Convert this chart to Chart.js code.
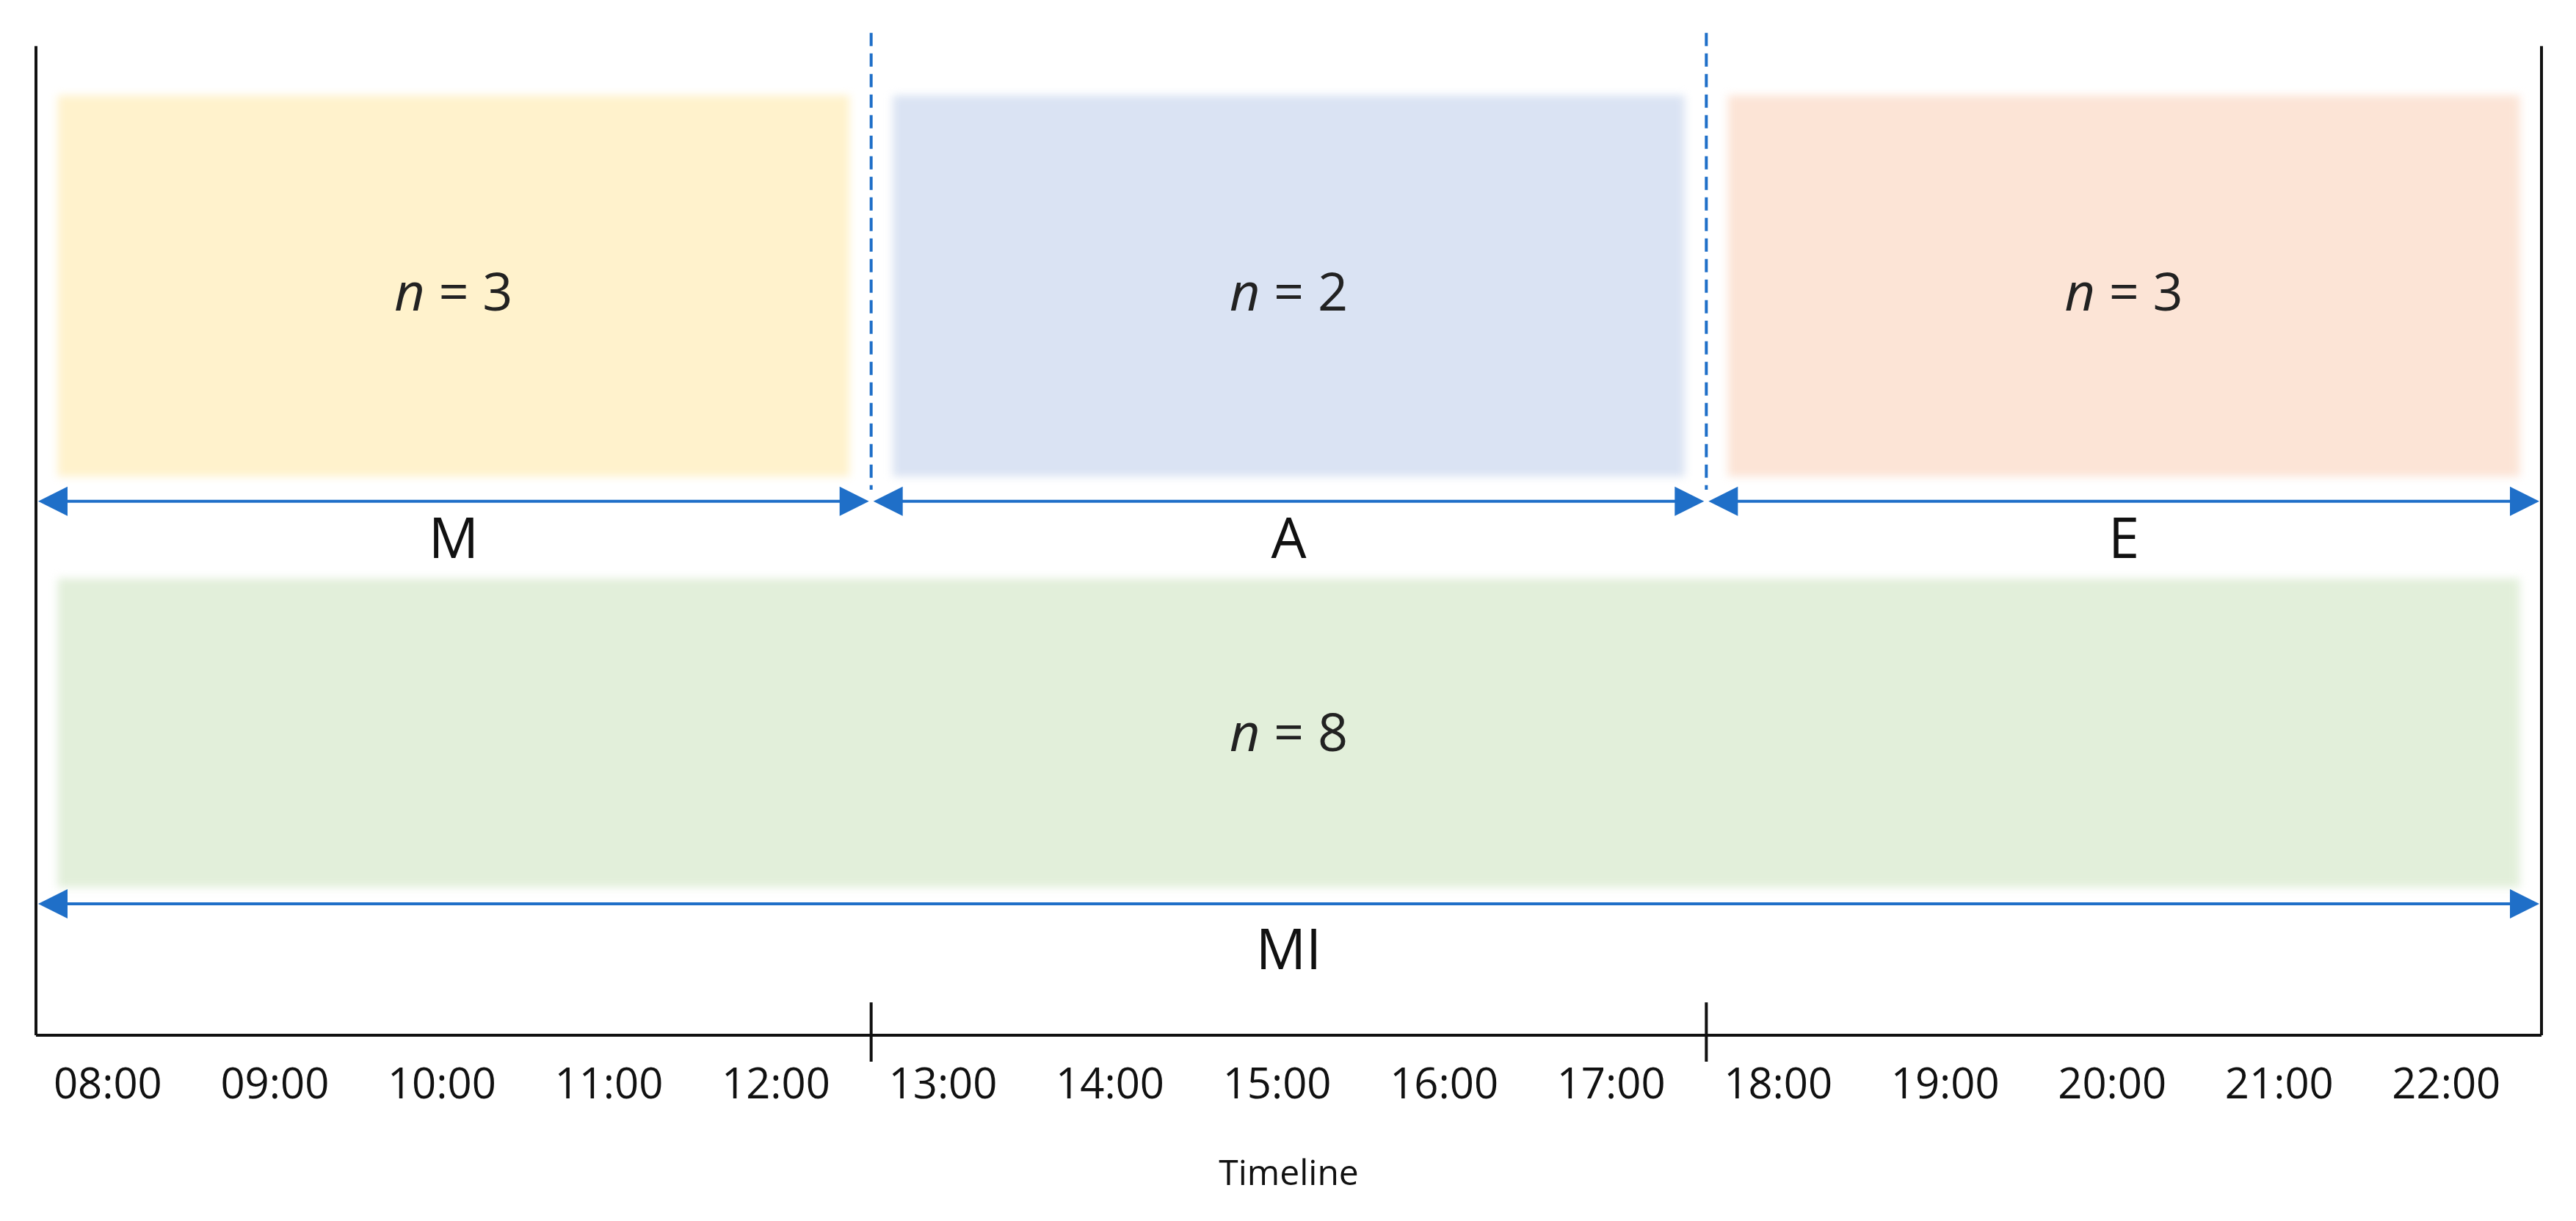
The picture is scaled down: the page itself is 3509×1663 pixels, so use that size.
<!DOCTYPE html>
<html>
<head>
<meta charset="utf-8">
<script src="https://cdn.jsdelivr.net/npm/chart.js@4/dist/chart.umd.min.js"></script>
<style>
  html, body { margin: 0; padding: 0; background: #fff; }
  #wrap { width: 3509px; height: 1663px; }
</style>
</head>
<body>
<div id="wrap"><canvas id="c"></canvas></div>
<script>
// periods of the day and number of sessions in each
const periods = ['M', 'A', 'E'];
const counts = [3, 2, 3];
const colors = ['#fff2cc', '#dae3f3', '#fce4d6'];
const totalLabel = 'MI';
const totalCount = 8;
const totalColor = '#e2efda';
const bounds = [0, 5, 10, 15];          // slot boundaries of the periods
const hours = ['08:00', '09:00', '10:00', '11:00', '12:00', '13:00', '14:00', '15:00',
  '16:00', '17:00', '18:00', '19:00', '20:00', '21:00', '22:00'];
const axisTitle = 'Timeline';

const blue = '#1f6fc8';

function arrow(ctx, x1, x2, y, h) {
  ctx.strokeStyle = blue; ctx.fillStyle = blue; ctx.lineWidth = 4;
  ctx.beginPath(); ctx.moveTo(x1 + h, y); ctx.lineTo(x2 - h, y); ctx.stroke();
  ctx.beginPath(); ctx.moveTo(x1, y); ctx.lineTo(x1 + h * 2, y - h); ctx.lineTo(x1 + h * 2, y + h); ctx.fill();
  ctx.beginPath(); ctx.moveTo(x2, y); ctx.lineTo(x2 - h * 2, y - h); ctx.lineTo(x2 - h * 2, y + h); ctx.fill();
}

function nText(ctx, x, y, n) {
  const rest = ' = ' + n;
  ctx.font = 'italic 72px "Open Sans"';
  const w1 = ctx.measureText('n').width;
  ctx.font = '72px "Open Sans"';
  const w2 = ctx.measureText(rest).width;
  const x0 = x - (w1 + w2) / 2;
  ctx.fillStyle = '#222'; ctx.textAlign = 'left'; ctx.textBaseline = 'middle';
  ctx.font = 'italic 72px "Open Sans"'; ctx.fillText('n', x0, y);
  ctx.font = '72px "Open Sans"'; ctx.fillText(rest, x0 + w1, y);
}

const timelinePlugin = {
  id: 'timeline',
  afterDraw(chart) {
    const ctx = chart.ctx;
    const xs = chart.scales.x, ys = chart.scales.y;
    const X = v => xs.getPixelForValue(v), Y = v => ys.getPixelForValue(v);
    ctx.save();
    // boxes with soft edges
    ctx.filter = 'blur(6px)';
    periods.forEach((p, i) => {
      ctx.fillStyle = colors[i];
      ctx.fillRect(X(bounds[i] + 0.13), Y(58), X(bounds[i + 1] - 0.13) - X(bounds[i] + 0.13), Y(290) - Y(58));
    });
    ctx.fillStyle = totalColor;
    ctx.fillRect(X(0.13), Y(352), X(14.87) - X(0.13), Y(540) - Y(352));
    ctx.filter = 'none';
    periods.forEach((p, i) => nText(ctx, (X(bounds[i]) + X(bounds[i + 1])) / 2, Y(180), counts[i]));
    nText(ctx, (X(0) + X(15)) / 2, Y(448), totalCount);

    // dashed dividers
    ctx.strokeStyle = blue; ctx.lineWidth = 4; ctx.setLineDash([18, 10]);
    [bounds[1], bounds[2]].forEach(b => {
      ctx.beginPath(); ctx.moveTo(X(b), Y(20)); ctx.lineTo(X(b), Y(298)); ctx.stroke();
    });
    ctx.setLineDash([]);

    // arrows and labels
    ctx.textAlign = 'center'; ctx.textBaseline = 'middle';
    periods.forEach((p, i) => {
      arrow(ctx, X(bounds[i]) + 3, X(bounds[i + 1]) - 3, Y(305), 20);
      ctx.fillStyle = '#111'; ctx.font = '76px "Open Sans"';
      ctx.fillText(p, (X(bounds[i]) + X(bounds[i + 1])) / 2, Y(330));
    });
    arrow(ctx, X(0) + 3, X(15) - 3, Y(550), 20);
    ctx.fillStyle = '#111'; ctx.font = '76px "Open Sans"';
    ctx.fillText(totalLabel, (X(0) + X(15)) / 2, Y(580));

    // frame and axis
    ctx.strokeStyle = '#111'; ctx.lineWidth = 4;
    ctx.beginPath();
    ctx.moveTo(X(0), Y(28)); ctx.lineTo(X(0), Y(630));
    ctx.moveTo(X(15), Y(28)); ctx.lineTo(X(15), Y(630));
    ctx.moveTo(X(0), Y(630)); ctx.lineTo(X(15), Y(630));
    [bounds[1], bounds[2]].forEach(b => { ctx.moveTo(X(b), Y(610)); ctx.lineTo(X(b), Y(646)); });
    ctx.stroke();

    ctx.fillStyle = '#111'; ctx.font = '58px "Open Sans"';
    hours.forEach((h, i) => ctx.fillText(h, X(i + 0.43), Y(661)));
    ctx.font = '48px "Open Sans"';
    ctx.fillText(axisTitle, (X(0) + X(15)) / 2, Y(715));
    ctx.restore();
  }
};

new Chart(document.getElementById('c'), {
  type: 'scatter',
  data: { datasets: [{ data: [] }] },
  options: {
    responsive: true, maintainAspectRatio: false, animation: false,
    layout: { padding: { left: 49, right: 47, top: 0, bottom: 0 } },
    plugins: { legend: { display: false }, tooltip: { enabled: false } },
    scales: {
      x: { type: 'linear', min: 0, max: 15, display: false },
      y: { type: 'linear', min: 0, max: 743, reverse: true, display: false }
    }
  },
  plugins: [timelinePlugin]
});
</script>
</body>
</html>
